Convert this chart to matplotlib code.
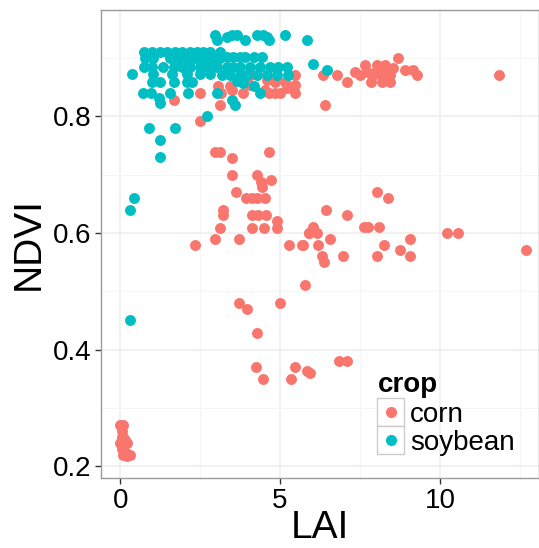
import matplotlib
matplotlib.use('Agg')
import matplotlib.pyplot as plt
from matplotlib.patches import Rectangle
from matplotlib.lines import Line2D

plt.rcParams['font.family'] = ['Liberation Sans', 'DejaVu Sans']

# --------------------------------------------------
# data
soy_lai = [2.97, 3.02, 3.33, 3.49, 3.65, 3.91, 4.27, 4.48, 4.58, 4.64, 5.16, 5.83,
           0.73, 0.99, 1.25, 1.46, 1.72, 1.93, 2.19, 2.40, 2.60, 2.81, 3.13,
           0.78, 1.04, 1.56, 1.82, 2.08, 2.34, 2.60, 2.86, 3.13, 3.33, 3.54, 3.75, 3.91, 4.17, 4.43,
           0.73, 0.99, 1.35, 1.67, 1.93, 2.19, 2.50, 2.76, 3.02, 3.33, 3.54, 3.75, 4.06, 4.38,
           4.69, 4.95, 5.21,
           0.36, 1.04, 1.61, 2.08, 2.50, 2.81, 3.18, 3.44, 3.75, 3.96, 4.27, 4.58, 4.90, 5.26,
           0.99, 1.25, 1.67, 2.08, 2.24, 3.65, 3.85,
           0.70, 0.95, 1.56, 2.13, 3.02, 4.38,
           4.17, 1.20, 1.25, 3.49, 3.60, 2.71, 0.89, 1.72, 1.23, 1.25, 0.42, 0.31, 0.31,
           6.02, 6.46, 3.75]
soy_ndvi = [0.940, 0.930, 0.935, 0.940, 0.940, 0.930, 0.940, 0.940, 0.935, 0.930, 0.940, 0.930,
            0.910, 0.910, 0.910, 0.910, 0.910, 0.910, 0.910, 0.910, 0.910, 0.910, 0.910,
            0.900, 0.900, 0.900, 0.900, 0.900, 0.900, 0.900, 0.900, 0.900, 0.902, 0.902, 0.902,
            0.902, 0.902, 0.902,
            0.885, 0.885, 0.885, 0.885, 0.885, 0.885, 0.885, 0.885, 0.885, 0.885, 0.885, 0.885,
            0.885, 0.885, 0.885, 0.885, 0.885,
            0.872, 0.872, 0.872, 0.872, 0.872, 0.872, 0.871, 0.871, 0.871, 0.871, 0.871, 0.871,
            0.871, 0.871,
            0.859, 0.859, 0.859, 0.859, 0.859, 0.860, 0.857,
            0.840, 0.840, 0.840, 0.840, 0.840, 0.840,
            0.851, 0.831, 0.823, 0.828, 0.820, 0.800, 0.780, 0.780, 0.760, 0.730, 0.660, 0.640,
            0.450,
            0.890, 0.879, 0.862]

corn_lai = [1.67, 2.50, 3.07, 3.13, 2.50, 3.15, 3.44, 3.49, 3.85, 4.06, 4.06,
            4.58, 4.84, 5.16, 5.47, 5.47, 5.21, 4.84, 4.53, 5.47, 5.00, 4.64,
            6.41, 6.35, 6.77, 7.10, 11.85,
            7.34, 7.66, 7.50, 7.71, 8.02, 8.28, 7.92, 8.18, 8.44, 8.54, 8.70, 8.91, 9.17, 9.29,
            7.86, 8.18, 8.44, 8.02, 8.33,
            2.97, 3.12, 3.49, 4.64, 3.49, 4.29, 4.40, 4.43, 4.71, 3.63, 3.94, 4.11, 4.27, 4.53,
            3.23, 3.23, 4.11, 4.32, 4.56, 4.92, 4.92, 3.13, 4.11, 4.50, 2.97, 3.73, 2.34,
            6.04, 5.92, 6.15, 5.90, 5.71, 6.20, 6.56, 6.44, 7.10, 8.04, 8.39, 7.63, 7.76, 8.09,
            5.29, 5.68, 8.26, 9.06, 8.75, 10.23, 10.57, 12.70,
            6.30, 6.38, 6.96, 8.04, 9.06, 5.78, 3.73, 3.96, 5.00, 4.27, 4.24, 5.47, 5.83, 5.94,
            6.85, 7.08, 4.46, 5.33,
            0.00, 0.10, 0.05, 0.10, 0.15, 0.00, 0.10, 0.20, 0.05, 0.15, 0.10, 0.30, 0.20, 0.05]
corn_ndvi = [0.828, 0.839, 0.851, 0.820, 0.791, 0.840, 0.851, 0.845, 0.840, 0.871, 0.854,
             0.862, 0.859, 0.859, 0.871, 0.854, 0.848, 0.840, 0.845, 0.840, 0.840, 0.840,
             0.820, 0.871, 0.871, 0.859, 0.871,
             0.876, 0.888, 0.871, 0.876, 0.888, 0.888, 0.871, 0.871, 0.871, 0.882, 0.899, 0.879,
             0.879, 0.871, 0.859, 0.859, 0.859, 0.879, 0.876,
             0.739, 0.739, 0.729, 0.739, 0.699, 0.699, 0.688, 0.678, 0.690, 0.670, 0.660, 0.660,
             0.660, 0.660,
             0.640, 0.631, 0.631, 0.631, 0.631, 0.620, 0.609, 0.609, 0.609, 0.609, 0.590, 0.590,
             0.580,
             0.610, 0.600, 0.599, 0.599, 0.580, 0.580, 0.590, 0.640, 0.630, 0.670, 0.660, 0.610,
             0.610, 0.610,
             0.580, 0.580, 0.580, 0.590, 0.570, 0.600, 0.600, 0.571,
             0.560, 0.550, 0.560, 0.560, 0.560, 0.510, 0.480, 0.469, 0.480, 0.429, 0.370, 0.370,
             0.364, 0.360, 0.380, 0.380, 0.349, 0.349,
             0.270, 0.270, 0.260, 0.250, 0.245, 0.240, 0.235, 0.240, 0.230, 0.225, 0.220, 0.220,
             0.218, 0.250]

crops = ['corn', 'soybean']
colors = {'corn': '#F8766D', 'soybean': '#00BFC4'}

# --------------------------------------------------
fig = plt.figure(figsize=(5.39, 5.48), dpi=100)
ax = fig.add_axes([101 / 539, 1 - 478 / 548, 438 / 539, 468 / 548])

ax.scatter(corn_lai, corn_ndvi, s=62, color=colors['corn'], linewidths=0, zorder=3)
ax.scatter(soy_lai, soy_ndvi, s=62, color=colors['soybean'], linewidths=0, zorder=3)

ax.set_xlim(-0.6, 13.1)
ax.set_ylim(0.18, 0.982)
ax.set_xticks([0, 5, 10])
ax.set_xticks([2.5, 7.5, 12.5], minor=True)
ax.set_yticks([0.2, 0.4, 0.6, 0.8])
ax.set_yticks([0.3, 0.5, 0.7, 0.9], minor=True)
ax.set_yticklabels(['0.2', '0.4', '0.6', '0.8'])

ax.grid(True, which='major', color='#EEEEEE', lw=1.1, zorder=0)
ax.grid(True, which='minor', color='#F6F6F6', lw=0.8, zorder=0)
ax.set_axisbelow(True)
for sp in ax.spines.values():
    sp.set_color('#9A9A9A')
    sp.set_linewidth(1)

ax.tick_params(which='major', length=4, width=1, color='#333333',
               labelsize=20, labelcolor='black', pad=3)
ax.tick_params(which='minor', length=0)

ax.set_xlabel('LAI', fontsize=28)
ax.set_ylabel('NDVI', fontsize=28)
# put the axis titles where the reference has them
ax.xaxis.set_label_coords(0.5, (478 - 510) / 468)
ax.yaxis.set_label_coords((47 - 101) / 438, 0.5)

# legend drawn by hand in ggplot style
fig.text(378 / 539, 1 - 392 / 548, 'crop', fontsize=20, fontweight='bold',
         ha='left', va='baseline')
for i, crop in enumerate(crops):
    y0 = 398 + i * 28
    fig.patches.append(Rectangle((377 / 539, 1 - (y0 + 28) / 548), 27 / 539, 28 / 548,
                                 transform=fig.transFigure, facecolor='white',
                                 edgecolor='#CCCCCC', lw=1))
    fig.lines.append(Line2D([390.5 / 539], [1 - (y0 + 14) / 548], marker='o',
                            markersize=8, color=colors[crop], markeredgewidth=0,
                            transform=fig.transFigure))
    fig.text(410 / 539, 1 - (y0 + 14) / 548, crop, fontsize=20, ha='left',
             va='center_baseline')

fig.savefig('out.png', dpi=100)
